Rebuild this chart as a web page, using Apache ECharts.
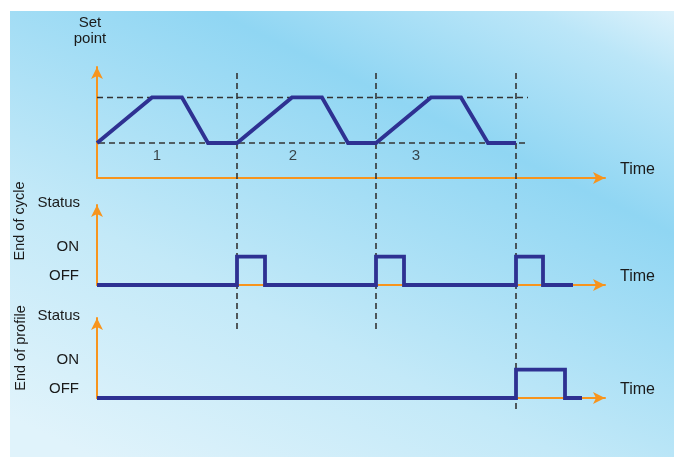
<!DOCTYPE html>
<html>
<head>
<meta charset="UTF-8">
<title>Profile timing</title>
<script src="https://cdn.jsdelivr.net/npm/echarts@6/dist/echarts.min.js"></script>
<style>
	html, body { margin: 0; padding: 0; background: #fff; }
	#main { width: 674px; height: 457px; }
</style>
</head>
<body>
<div id="main"></div>
<script>
    // set point profile (time, level)
    var spTime = [0, 5.5, 8.5, 11.1, 14, 19.5, 22.5, 25.1, 27.9, 33.4, 36.4, 39.1, 41.9];
    var spLevel = [1, 2.3, 2.3, 1, 1, 2.3, 2.3, 1, 1, 2.3, 2.3, 1, 1];
    var upperRef = [[-1.0, 2.3], [43.1, 2.3]];
    var lowerRef = [[-0.8, 1], [43.2, 1]];
    var cycleNames = ['1', '2', '3'];
    var cycleLabelTime = [6.0, 19.6, 31.9];
    var cycleLabelLevel = 0.63;

    // end of cycle signal: switch times and state (0 = OFF, 1 = ON)
    var eocTime = [0, 14, 16.8, 27.9, 30.7, 41.9, 44.6, 47.6];
    var eocState = [0, 1, 0, 1, 0, 1, 0, 0];

    // end of profile signal
    var eopTime = [0, 41.9, 46.8, 48.5];
    var eopState = [0, 1, 0, 0];

    // vertical markers at end of each cycle (overlay units: 1 = top, 0 = bottom)
    var cycleEnd = [14, 27.9, 41.9];
    var markerBottom = [0.24, 0.24, 0];

    var statusLabels = ['OFF', 'ON'];

    var blue = '#2e3192';
    var orange = '#f7941d';
    var ink = '#1a1a1a';
    var font = 'Liberation Sans, Arial, sans-serif';

    function zip(a, b) {
        var out = [];
        for (var i = 0; i < a.length; i++) out.push([a[i], b[i]]);
        return out;
    }

    function timeAxis(idx, withName) {
        return {
            gridIndex: idx, type: 'value', min: 0, max: 50.8,
            name: withName ? 'Time' : '',
            nameLocation: 'end', nameGap: 15,
            nameTextStyle: { color: ink, fontSize: 16, fontFamily: font, verticalAlign: 'bottom', align: 'left' },
            axisLine: { show: withName, lineStyle: { color: orange, width: 2 }, symbol: ['none', 'arrow'], symbolSize: [9, 12] },
            axisTick: { show: false }, axisLabel: { show: false }, splitLine: { show: false }
        };
    }

    function statusAxis(idx) {
        return {
            gridIndex: idx, type: 'value', min: 0, max: 2.81, interval: 1,
            name: 'Status', nameLocation: 'end', nameGap: 2, nameMoveOverlap: false,
            nameTextStyle: { color: ink, fontSize: 15, fontFamily: font, align: 'right', verticalAlign: 'middle', padding: [0, 17, 0, 0] },
            axisLine: { show: true, lineStyle: { color: orange, width: 2 }, symbol: ['none', 'arrow'], symbolSize: [9, 12] },
            axisTick: { show: false }, splitLine: { show: false },
            axisLabel: {
                margin: 18, color: ink, fontSize: 15, fontFamily: font, verticalAlign: 'bottom', padding: [0, 0, 2, 0],
                formatter: function (v) { return statusLabels[v] || ''; }
            }
        };
    }

    var chart = echarts.init(document.getElementById('main'));
    var option = {
        animation: false,
        graphic: [
            {
                type: 'rect', z: -100, silent: true,
                shape: { x: 10, y: 11, width: 664, height: 446 },
                style: {
                    fill: new echarts.graphic.LinearGradient(180, 500, 480, -120, [
                        { offset: 0, color: '#e0f3fb' },
                        { offset: 0.3, color: '#c3e9f8' },
                        { offset: 0.66, color: '#90d6f3' },
                        { offset: 0.86, color: '#bbe6f8' },
                        { offset: 1, color: '#eef8fd' }
                    ], true)
                }
            },
            {
                type: 'text', x: 20, y: 221, rotation: Math.PI / 2, silent: true,
                style: { text: 'End of cycle', fill: ink, font: '14.5px ' + font, align: 'center', verticalAlign: 'middle' }
            },
            {
                type: 'text', x: 21, y: 348, rotation: Math.PI / 2, silent: true,
                style: { text: 'End of profile', fill: ink, font: '14.5px ' + font, align: 'center', verticalAlign: 'middle' }
            }
        ],
        grid: [
            { left: 97, top: 67, width: 508, height: 111 },
            { left: 97, top: 205, width: 508, height: 80 },
            { left: 97, top: 318, width: 508, height: 80 },
            { left: 97, top: 73, width: 508, height: 339 }
        ],
        xAxis: [
            timeAxis(0, true),
            timeAxis(1, true),
            timeAxis(2, true),
            timeAxis(3, false)
        ],
        yAxis: [
            {
                gridIndex: 0, type: 'value', min: 0, max: 3.17,
                name: 'Set\npoint', nameLocation: 'end', nameGap: 20, nameMoveOverlap: false,
                nameTextStyle: { color: ink, fontSize: 15, lineHeight: 16, fontFamily: font, align: 'center', padding: [0, 14, 0, 0] },
                axisLine: { show: true, lineStyle: { color: orange, width: 2 }, symbol: ['none', 'arrow'], symbolSize: [9, 12] },
                axisTick: { show: false }, axisLabel: { show: false }, splitLine: { show: false }
            },
            statusAxis(1),
            statusAxis(2),
            {
                gridIndex: 3, type: 'value', min: 0, max: 1, show: false
            }
        ],
        series: [
            {
                type: 'line', xAxisIndex: 0, yAxisIndex: 0, data: upperRef, clip: false, symbol: 'none', z: 1,
                lineStyle: { color: '#333', width: 1.6, type: [6, 4] }
            },
            {
                type: 'line', xAxisIndex: 0, yAxisIndex: 0, data: lowerRef, clip: false, symbol: 'none', z: 1,
                lineStyle: { color: '#333', width: 1.6, type: [6, 4] }
            },
            {
                type: 'line', xAxisIndex: 0, yAxisIndex: 0, data: zip(spTime, spLevel), symbol: 'none', z: 3,
                lineStyle: { color: blue, width: 3.8, join: 'miter' }
            },
            {
                type: 'scatter', xAxisIndex: 0, yAxisIndex: 0, symbolSize: 0,
                data: cycleLabelTime.map(function (t, i) { return { value: [t, cycleLabelLevel], name: cycleNames[i] }; }),
                label: { show: true, position: 'inside', formatter: '{b}', color: ink, fontSize: 15, fontFamily: font }
            },
            {
                type: 'line', xAxisIndex: 1, yAxisIndex: 1, data: zip(eocTime, eocState), step: 'end', symbol: 'none', z: 3,
                lineStyle: { color: blue, width: 3.8, join: 'miter' }
            },
            {
                type: 'line', xAxisIndex: 2, yAxisIndex: 2, data: zip(eopTime, eopState), step: 'end', symbol: 'none', z: 3,
                lineStyle: { color: blue, width: 3.8, join: 'miter' }
            }
        ].concat(cycleEnd.map(function (t, i) {
            return {
                type: 'line', xAxisIndex: 3, yAxisIndex: 3, data: [[t, 1], [t, markerBottom[i]]], symbol: 'none', z: 2,
                lineStyle: { color: '#333', width: 1.6, type: [6, 4] }
            };
        }))
    };
    chart.setOption(option);
</script>
</body>
</html>
